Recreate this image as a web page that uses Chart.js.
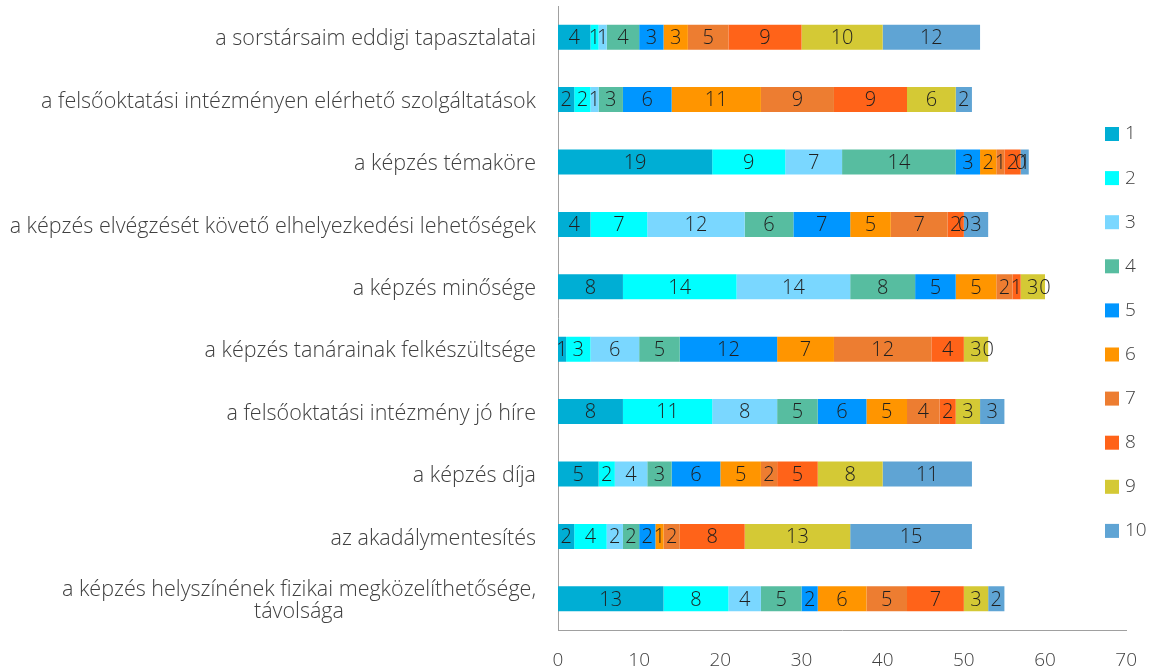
<!DOCTYPE html>
<html>
<head>
<meta charset="utf-8">
<script src="https://cdn.jsdelivr.net/npm/chart.js@4"></script>
<style>
  html, body { margin: 0; padding: 0; background: #fff; }
  #wrap { width: 1156px; height: 672px; position: relative; }
</style>
</head>
<body>
<div id="wrap"><canvas id="chart"></canvas></div>
<script>
// categories, top to bottom
const categories = [
  'a sorstársaim eddigi tapasztalatai',
  'a felsőoktatási intézményen elérhető szolgáltatások',
  'a képzés témaköre',
  'a képzés elvégzését követő elhelyezkedési lehetőségek',
  'a képzés minősége',
  'a képzés tanárainak felkészültsége',
  'a felsőoktatási intézmény jó híre',
  'a képzés díja',
  'az akadálymentesítés',
  ['a képzés helyszínének fizikai megközelíthetősége,', 'távolsága']
];
const seriesNames = ['1', '2', '3', '4', '5', '6', '7', '8', '9', '10'];
const s1  = [4, 2, 19, 4, 8, 1, 8, 5, 2, 13];
const s2  = [1, 2, 9, 7, 14, 3, 11, 2, 4, 8];
const s3  = [1, 1, 7, 12, 14, 6, 8, 4, 2, 4];
const s4  = [4, 3, 14, 6, 8, 5, 5, 3, 2, 5];
const s5  = [3, 6, 3, 7, 5, 12, 6, 6, 2, 2];
const s6  = [3, 11, 2, 5, 5, 7, 5, 5, 1, 6];
const s7  = [5, 9, 1, 7, 2, 12, 4, 2, 2, 5];
const s8  = [9, 9, 2, 2, 1, 4, 2, 5, 8, 7];
const s9  = [10, 6, 0, 0, 3, 3, 3, 8, 13, 3];
const s10 = [12, 2, 1, 3, 0, 0, 3, 11, 15, 2];
const xTicks = [0, 10, 20, 30, 40, 50, 60, 70];

const colors = ['#00aed4', '#00ffff', '#7ad7ff', '#57bda0', '#0096ff',
                '#ff9500', '#ed7d31', '#ff6319', '#d4c935', '#5fa4d4'];
const FONT = "'Open Sans', 'Noto Sans', sans-serif";
const TEXT = '#404040';

const allSeries = [s1, s2, s3, s4, s5, s6, s7, s8, s9, s10];

// value labels centred in every segment (zeros included)
const valueLabels = {
  id: 'valueLabels',
  afterDatasetsDraw(chart) {
    const ctx = chart.ctx;
    ctx.save();
    ctx.font = '300 20px ' + FONT;
    ctx.fillStyle = '#1f1f1f';
    ctx.textAlign = 'center';
    ctx.textBaseline = 'middle';
    chart.data.datasets.forEach((ds, i) => {
      chart.getDatasetMeta(i).data.forEach((bar, j) => {
        const cx = (bar.x + bar.base) / 2;
        ctx.fillText(String(ds.data[j]), cx, bar.y + 1);
      });
    });
    ctx.restore();
  }
};

// category labels: right aligned, extra lines centred under the first
const catLabels = {
  id: 'catLabels',
  afterDraw(chart) {
    const ctx = chart.ctx, y = chart.scales.y;
    const right = chart.chartArea.left - 22;
    ctx.save();
    ctx.font = '300 21.5px ' + FONT;
    ctx.fillStyle = TEXT;
    ctx.textAlign = 'center';
    ctx.textBaseline = 'middle';
    categories.forEach((c, i) => {
      const lines = Array.isArray(c) ? c : [c];
      const w = Math.max(...lines.map(l => ctx.measureText(l).width));
      const cx = right - w / 2;
      const lh = 22;
      const y0 = y.getPixelForTick(i) - (lines.length - 1) * lh / 2 + 2;
      lines.forEach((l, k) => ctx.fillText(l, cx, y0 + k * lh));
    });
    ctx.restore();
  }
};

// legend drawn over the right end of the plot, like the original
const sideLegend = {
  id: 'sideLegend',
  afterDraw(chart) {
    const ctx = chart.ctx;
    ctx.save();
    ctx.font = '300 19px ' + FONT;
    ctx.textBaseline = 'middle';
    ctx.textAlign = 'left';
    chart.data.datasets.forEach((ds, i) => {
      const cy = 134 + i * 44.1;
      ctx.fillStyle = ds.backgroundColor;
      ctx.fillRect(1105, cy - 7, 14, 14);
      ctx.fillStyle = TEXT;
      ctx.fillText(ds.label, 1125, cy);
    });
    ctx.restore();
  }
};

new Chart(document.getElementById('chart'), {
  type: 'bar',
  data: {
    labels: categories,
    datasets: allSeries.map((d, i) => ({
      label: seriesNames[i],
      data: d,
      backgroundColor: colors[i],
      borderWidth: 0,
      categoryPercentage: 0.8,
      barPercentage: 0.5
    }))
  },
  options: {
    indexAxis: 'y',
    responsive: true,
    maintainAspectRatio: false,
    animation: false,
    layout: { padding: { top: 6, right: 26, bottom: 0, left: 0 } },
    plugins: { legend: { display: false }, tooltip: { enabled: false } },
    scales: {
      x: {
        stacked: true,
        min: 0, max: 70,
        afterBuildTicks: s => { s.ticks = xTicks.map(v => ({ value: v })); },
        afterFit: s => { s.height = 42; },
        grid: { display: false, drawTicks: false },
        border: { display: true, color: '#a0a0a0', width: 1 },
        ticks: { color: TEXT, font: { family: FONT, size: 19, weight: 300 }, padding: 19, maxRotation: 0 }
      },
      y: {
        stacked: true,
        grid: { display: false, drawTicks: false },
        border: { display: true, color: '#a0a0a0', width: 1 },
        ticks: { display: false },
        afterFit: s => { s.width = 558; }
      }
    }
  },
  plugins: [valueLabels, catLabels, sideLegend]
});
</script>
</body>
</html>
